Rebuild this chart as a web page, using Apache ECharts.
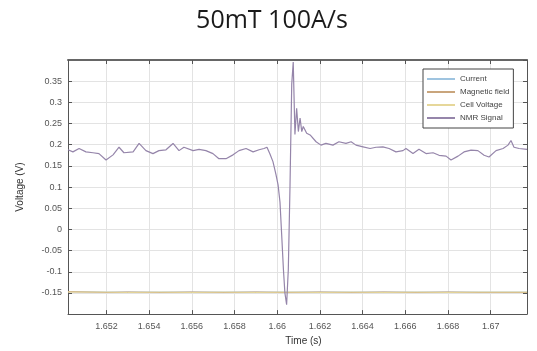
<!DOCTYPE html>
<html><head><meta charset="utf-8">
<script src="https://cdn.jsdelivr.net/npm/echarts@6/dist/echarts.min.js"></script>
<style>html,body{margin:0;padding:0;background:#fff}#c{width:537px;height:351px}</style>
</head><body><div id="c"></div>
<script>
const titleText = "50mT 100A/s";
const xAxisName = "Time (s)";
const yAxisName = "Voltage (V)";
const seriesNames = ["Current", "Magnetic field", "Cell Voltage", "NMR Signal"];

const nmrTime = [1.65020,1.65043,1.65072,1.65104,1.65137,1.65165,1.65198,1.65231,1.65259,1.65282,
1.65325,1.65353,1.65385,1.65418,1.65446,1.65479,1.65512,1.65540,1.65563,1.65606,
1.65634,1.65666,1.65699,1.65727,1.65760,1.65793,1.65821,1.65854,1.65887,1.65915,
1.65938,1.65952,1.65966,1.65980,1.65994,1.66004,1.66013,1.66021,1.66029,1.66036,
1.66044,1.66052,1.66060,1.66068,1.66075,1.66083,1.66091,1.66099,1.66107,1.66115,
1.66122,1.66138,1.66154,1.66182,1.66205,1.66228,1.66261,1.66289,1.66322,1.66346,
1.66369,1.66402,1.66435,1.66463,1.66495,1.66524,1.66556,1.66589,1.66603,1.66636,
1.66664,1.66697,1.66730,1.66758,1.66791,1.66814,1.66847,1.66875,1.66908,1.66940,
1.66969,1.66992,1.67025,1.67058,1.67081,1.67095,1.67109,1.67133,1.67170];
const nmrValue = [0.188,0.183,0.191,0.183,0.181,0.179,0.164,0.176,0.194,0.181,
0.183,0.203,0.186,0.179,0.186,0.188,0.203,0.186,0.194,0.186,
0.189,0.186,0.179,0.167,0.167,0.176,0.186,0.191,0.183,0.188,
0.191,0.194,0.178,0.160,0.130,0.105,0.064,-0.014,-0.094,-0.150,
-0.178,-0.094,0.105,0.343,0.395,0.224,0.286,0.231,0.263,0.231,
0.243,0.227,0.223,0.207,0.199,0.203,0.199,0.207,0.203,0.207,
0.199,0.195,0.191,0.194,0.195,0.191,0.183,0.186,0.191,0.179,
0.189,0.179,0.181,0.175,0.173,0.164,0.173,0.183,0.187,0.186,
0.175,0.171,0.186,0.191,0.199,0.210,0.194,0.191,0.189];

const flatTime = [1.6502,1.6520,1.6530,1.6545,1.6560,1.6575,1.6590,1.6605,1.6620,1.6635,1.6650,1.6665,1.6680,1.6695,1.6717];
const currentValue = [-0.147,-0.148,-0.148,-0.148,-0.148,-0.148,-0.148,-0.148,-0.148,-0.148,-0.148,-0.148,-0.148,-0.148,-0.148];
const fieldValue   = [-0.147,-0.149,-0.148,-0.149,-0.148,-0.149,-0.148,-0.149,-0.148,-0.149,-0.148,-0.149,-0.148,-0.149,-0.149];
const cellValue    = [-0.148,-0.148,-0.149,-0.148,-0.149,-0.148,-0.149,-0.148,-0.149,-0.148,-0.149,-0.148,-0.149,-0.148,-0.148];

const colors = ["#9fc4e0", "#c9a57c", "#e6d79a", "#9585aa"];

function pairs(t, v){ return t.map((x,i)=>[x, v[i]]); }

const chart = echarts.init(document.getElementById('c'), null, {renderer:'canvas'});
const axisCommon = {
  axisLine:{show:true, onZero:false, lineStyle:{color:'#555', width:1}},
  axisTick:{show:true, inside:true, length:4, lineStyle:{color:'#555'}},
};
chart.setOption({
  animation:false,
  backgroundColor:'#fff',
  textStyle:{fontFamily:'Liberation Sans'},
  graphic:[{type:'text', x:272, y:21, style:{text:titleText, font:'25px "Open Sans"', fill:'#1a1a1a', textAlign:'center', textVerticalAlign:'middle'}}],
  grid:{left:68, top:60, right:10, bottom:35, containLabel:false},
  legend:{
    orient:'vertical', left:423, top:69, width:95,
    backgroundColor:'#fff', borderColor:'#444', borderWidth:1,
    padding:[5,4,5,4], icon:'rect', itemWidth:28, itemHeight:2, itemGap:3,
    textStyle:{fontSize:8, color:'#444', padding:[0,0,0,0], lineHeight:10},
    data:seriesNames
  },
  xAxis:[
    Object.assign({type:'value', min:1.6502, max:1.6717, splitNumber:10, minInterval:0.002, maxInterval:0.002,
      name:xAxisName, nameLocation:'middle', nameGap:20, nameTextStyle:{fontSize:10, color:'#333', padding:[0,0,0,12]},
      axisLabel:{fontSize:9, color:'#555', margin:8, showMinLabel:false, showMaxLabel:false,
        formatter:v=>String(+v.toFixed(3))},
      splitLine:{show:true, lineStyle:{color:'#e3e3e3', width:1}}}, axisCommon),
    Object.assign({type:'value', position:'top', min:1.6502, max:1.6717, splitNumber:10, minInterval:0.002, maxInterval:0.002,
      axisLabel:{show:false}, splitLine:{show:false}}, axisCommon, {axisLine:{show:true, onZero:false, lineStyle:{color:'#666', width:2}}})
  ],
  yAxis:[
    Object.assign({type:'value', min:-0.2, max:0.4, interval:0.05,
      name:yAxisName, nameLocation:'middle', nameGap:43, nameRotate:90, nameTextStyle:{fontSize:10, color:'#333'},
      axisLabel:{fontSize:9, color:'#555', margin:6, showMinLabel:false, showMaxLabel:false,
        formatter:v=>String(+v.toFixed(2))},
      splitLine:{show:true, lineStyle:{color:'#e3e3e3', width:1}}}, axisCommon),
    Object.assign({type:'value', position:'right', min:-0.2, max:0.4, interval:0.05,
      axisLabel:{show:false}, splitLine:{show:false}}, axisCommon)
  ],
  series:[
    {name:seriesNames[0], type:'line', showSymbol:false, data:pairs(flatTime,currentValue), lineStyle:{color:colors[0], width:1}, itemStyle:{color:colors[0]}},
    {name:seriesNames[1], type:'line', showSymbol:false, data:pairs(flatTime,fieldValue), lineStyle:{color:colors[1], width:1.2}, itemStyle:{color:colors[1]}},
    {name:seriesNames[2], type:'line', showSymbol:false, data:pairs(flatTime,cellValue), lineStyle:{color:colors[2], width:1}, itemStyle:{color:colors[2]}},
    {name:seriesNames[3], type:'line', showSymbol:false, data:pairs(nmrTime,nmrValue), lineStyle:{color:colors[3], width:1.2}, itemStyle:{color:colors[3]}}
  ]
});
</script></body></html>
